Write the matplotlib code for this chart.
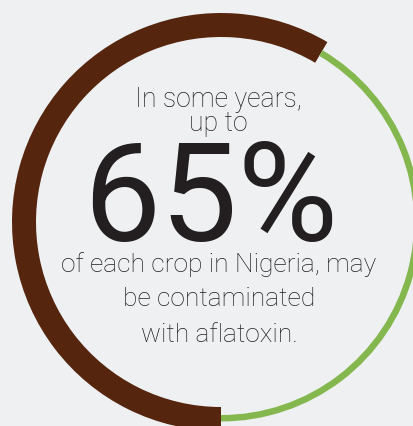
import matplotlib
matplotlib.use("Agg")
import matplotlib.pyplot as plt

# Data
segments = ["Contaminated", "Other"]
values = [58.5, 41.5]
colors = ["#55250e", "#84b74e"]
lines_top = ["In some years,", "up to"]
big_text = "65%"
lines_bottom = ["of each crop in Nigeria, may", "be contaminated", "with aflatoxin."]

W, H = 413, 426
bg = "#eef0f2"
fig = plt.figure(figsize=(W / 100, H / 100), dpi=100, facecolor=bg)
ax = fig.add_axes([0, 0, 1, 1])
ax.set_facecolor(bg)

cx, cy = 221, H - 222
# brown thick ring
ax.pie(values, colors=[colors[0], "none"], startangle=-90, counterclock=False,
       radius=209, center=(cx, cy), wedgeprops=dict(width=24, linewidth=0))
# green thin ring
ax.pie(values, colors=["none", colors[1]], startangle=-90, counterclock=False,
       radius=199.5, center=(cx, cy), wedgeprops=dict(width=6.5, linewidth=0))

ax.set_xlim(0, W)
ax.set_ylim(0, H)
ax.set_aspect("auto")
ax.axis("off")

tc = "#231f20"
fam = ["Roboto", "DejaVu Sans"]
ax.text(218, H - 107, lines_top[0], ha="center", va="baseline", fontsize=19.2,
        family=fam, weight="light", color=tc)
ax.text(218, H - 131, lines_top[1], ha="center", va="baseline", fontsize=19.2,
        family=fam, weight="light", color=tc)
ax.text(211, H - 241, big_text, ha="center", va="baseline", fontsize=99,
        family=fam, weight="normal", color=tc)
ys = [272, 306, 342]
for t, y in zip(lines_bottom, ys):
    ax.text(219, H - y, t, ha="center", va="baseline", fontsize=19,
            family=fam, weight="light", color=tc)

fig.savefig("out.png", dpi=100, facecolor=bg)
